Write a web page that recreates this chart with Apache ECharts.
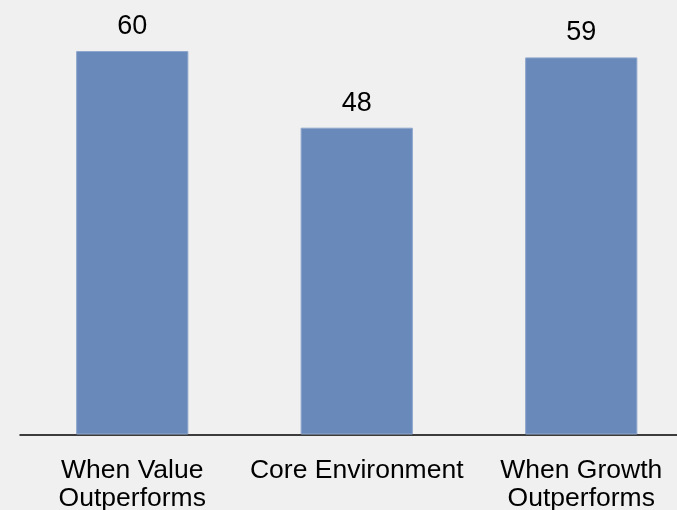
<!DOCTYPE html>
<html><head><meta charset="utf-8">
<script src="https://cdn.jsdelivr.net/npm/echarts@6/dist/echarts.min.js"></script>
<style>html,body{margin:0;padding:0;background:#f0f0f0;}#c{width:677px;height:510px;}</style>
</head><body><div id="c"></div>
<script>
const categories = ['When Value\nOutperforms', 'Core Environment', 'When Growth\nOutperforms'];
const values = [60, 48, 59];
const chart = echarts.init(document.getElementById('c'));
chart.setOption({
  backgroundColor: '#f0f0f0',
  animation: false,
  grid: {left: 20, width: 673.5, top: 51, bottom: 75.5, containLabel: false, outerBoundsMode: 'none'},
  xAxis: {
    type: 'category', data: categories,
    axisLine: {lineStyle: {color: '#000', width: 1.5}},
    axisTick: {show: false},
    axisLabel: {color: '#000', fontSize: 26.5, fontFamily: 'Liberation Sans, Arial, sans-serif', margin: 22, lineHeight: 28, interval: 0, hideOverlap: false}
  },
  yAxis: {type: 'value', min: 0, max: 60, show: false, splitLine: {show: false}},
  series: [{
    type: 'bar', data: values, barWidth: '50%',
    itemStyle: {color: '#6a89bb', borderColor: '#8fa7cc', borderWidth: 1},
    label: {show: true, position: 'top', distance: 11, color: '#000', fontSize: 27, fontFamily: 'Liberation Sans, Arial, sans-serif'}
  }]
});
</script></body></html>
